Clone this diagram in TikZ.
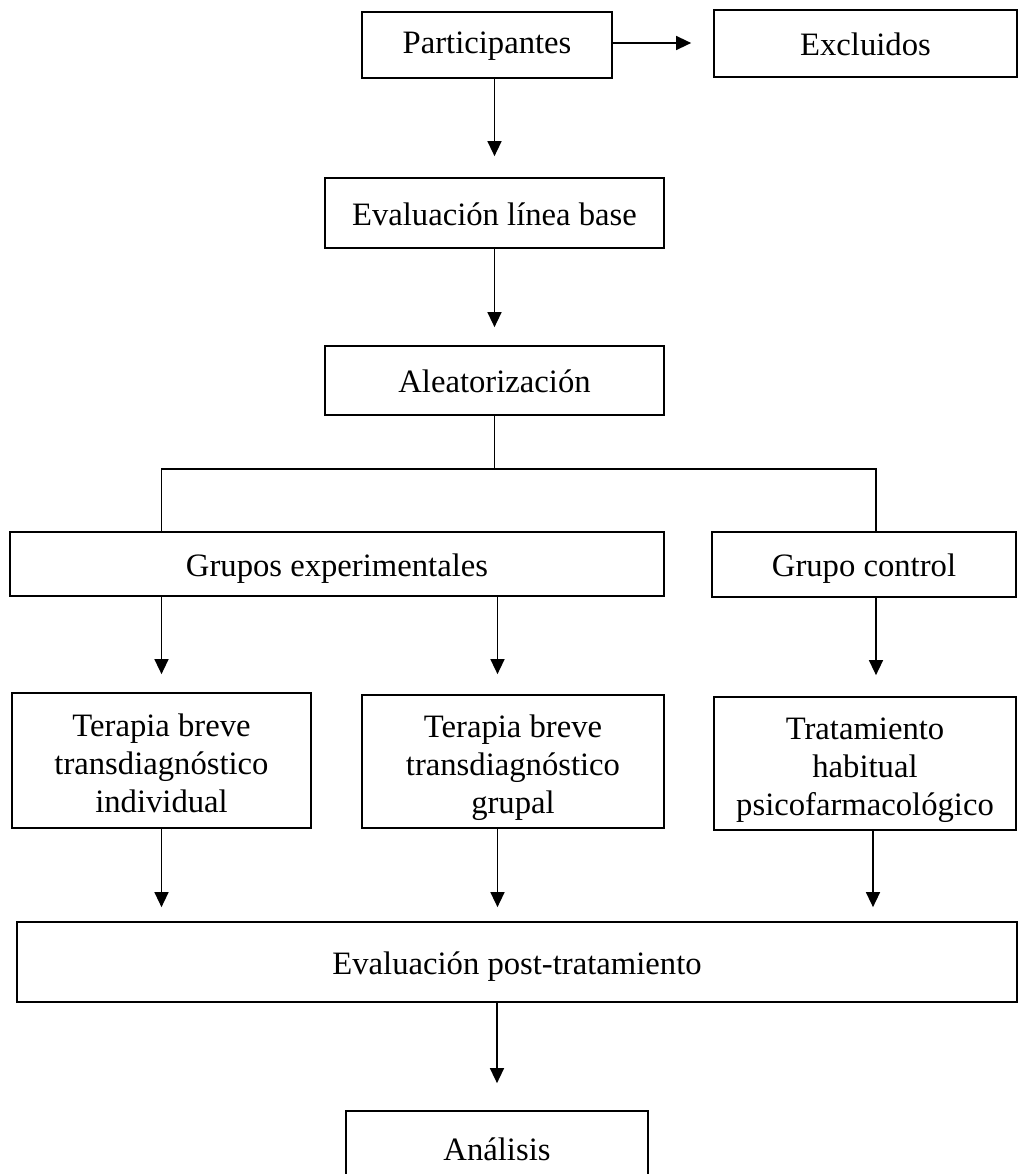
\documentclass[tikz,border=0pt]{standalone}
\usepackage{fontspec}
\setmainfont{Liberation Serif}
\usetikzlibrary{arrows.meta}

\tikzset{
  box/.style={draw, line width=1.3pt, rectangle, inner sep=0pt,
              font=\fontsize{24.5}{28.5}\selectfont},
  onebox/.style={box, text height=24pt, text depth=6pt},
  tribox/.style={box, align=center},
  link/.style={line width=1.1pt},
  arr/.style={link, -{Triangle[length=11.25pt,width=10.5pt]}},
}
% first and last line struts so three-line boxes share baselines
\newcommand\topline{\rule{0pt}{30pt}}

\begin{document}
\begin{tikzpicture}[x=0.75pt,y=-0.75pt]
  \useasboundingbox (0,0) rectangle (1018,1174);
  \clip (0,0) rectangle (1018,1174);

  % boxes
  \node[onebox, text height=22pt, text depth=10pt, minimum width=187.5pt, minimum height=49.5pt] (part) at (487,45) {Participantes};
  \node[onebox, minimum width=227.25pt, minimum height=50.25pt] (excl)  at (865.5,43.5) {Excluidos};
  \node[onebox, minimum width=254.25pt, minimum height=52.5pt]  (base)  at (494.5,213)   {Evaluación línea base};
  \node[onebox, minimum width=254.25pt, minimum height=51.75pt] (alea)  at (494.5,380.5) {Aleatorización};
  \node[onebox, minimum width=490.5pt, minimum height=48pt]     (gexp)  at (337,564)     {Grupos experimentales};
  \node[onebox, minimum width=228pt, minimum height=48.75pt]    (gctl)  at (864,564.5)   {Grupo control};
  \node[tribox, minimum width=224.25pt, minimum height=101.25pt] (tind) at (161.5,760.5) {\topline Terapia breve\\transdiagnóstico\\individual\strut};
  \node[tribox, minimum width=226.5pt, minimum height=99.75pt]  (tgrp)  at (513,761.5)   {\topline Terapia breve\\transdiagnóstico\\grupal\strut};
  \node[tribox, minimum width=226.5pt, minimum height=99.75pt]  (ttrat) at (865,763.5)   {\topline Tratamiento\\habitual\\psicofarmacológico\strut};
  \node[onebox, minimum width=750pt, minimum height=60pt]       (epost) at (517,962)     {Evaluación post-tratamiento};
  \node[onebox, minimum width=226.5pt, minimum height=55.5pt]   (anal)  at (497,1148)    {Análisis};

  % column positions of the vertical connectors
  \coordinate (colA) at (161.5,0);
  \coordinate (colB) at (497.5,0);
  \coordinate (colC) at (876,0);
  \coordinate (colD) at (873,0);
  \coordinate (split) at (494.5,469);

  % top chain
  \draw[arr, shorten >=16.5pt] (part.east |- excl.west) ++(0,-0.5) coordinate (pe) (pe) -- (pe -| excl.west);
  \draw[arr, shorten >=15.75pt] (part.south -| base.north) -- (base.north);
  \draw[arr, shorten >=13.5pt] (base.south) -- (alea.north);

  % randomisation split
  \draw[link] (alea.south) -- (split);
  \draw[link] (gexp.north -| colA) -- (split -| colA) -- (split -| colC) -- (gctl.north -| colC);

  % groups to treatments
  \draw[arr, shorten >=13.5pt] (gexp.south -| colA) -- (tind.north -| colA);
  \draw[arr, shorten >=15pt]   (gexp.south -| colB) -- (tgrp.north -| colB);
  \draw[arr, shorten >=15.75pt] (gctl.south -| colC) -- (ttrat.north -| colC);

  % treatments to post-treatment evaluation
  \draw[arr, shorten >=10.5pt] (tind.south -| colA) -- (epost.north -| colA);
  \draw[arr, shorten >=10.5pt] (tgrp.south -| colB) -- (epost.north -| colB);
  \draw[arr, shorten >=10.5pt] (ttrat.south -| colD) -- (epost.north -| colD);

  % analysis
  \draw[arr, shorten >=20.25pt] (epost.south -| anal.north) -- (anal.north);
\end{tikzpicture}
\end{document}
